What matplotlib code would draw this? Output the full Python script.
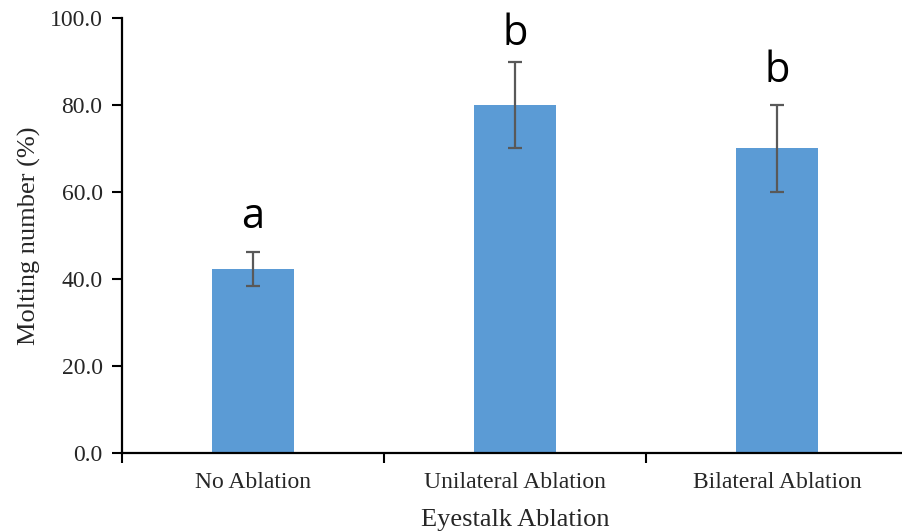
import matplotlib.pyplot as plt

groups = ["No Ablation", "Unilateral Ablation", "Bilateral Ablation"]
molting = [42.3, 80.0, 70.0]
errors = [3.9, 10.0, 10.0]
letters = ["a", "b", "b"]
letter_y = [51.7, 93.8, 85.3]
y_ticks = [0, 20, 40, 60, 80, 100]

plt.rcParams["font.family"] = ["Liberation Serif", "DejaVu Serif"]

fig = plt.figure(figsize=(9.03, 5.31), dpi=100)
ax = fig.add_axes([0.1351, 0.1469, 0.8704, 0.8192])

x = list(range(len(groups)))
ax.bar(x, molting, width=0.31, color="#5B9BD5", zorder=2)
ax.errorbar(
    x, molting, yerr=errors,
    fmt="none", ecolor="#595959", elinewidth=1.6,
    capsize=5, capthick=1.6, zorder=3
)

# significance letters
for xi, letter, yl in zip(x, letters, letter_y):
    ax.text(xi, yl, letter, ha="center", va="baseline",
            fontsize=30, family=["Open Sans", "DejaVu Sans"], color="black")

ax.set_xlim(-0.5, 2.5)
ax.set_ylim(0, 100)
ax.set_yticks(y_ticks)
ax.set_yticklabels([f"{v:.1f}" for v in y_ticks])

ax.set_xticks(x)
ax.set_xticklabels(groups)
ax.set_xticks([-0.5, 0.5, 1.5, 2.5], minor=True)
ax.tick_params(axis="x", which="major", length=0, pad=14, labelsize=17,
               labelcolor="#262626")
ax.tick_params(axis="x", which="minor", length=7, width=1.5, direction="out")
ax.tick_params(axis="y", length=7, width=1.5, direction="out", pad=7,
               labelsize=17, labelcolor="#262626")

for side in ["top", "right"]:
    ax.spines[side].set_visible(False)
for side in ["left", "bottom"]:
    ax.spines[side].set_linewidth(1.6)

ax.set_xlabel("Eyestalk Ablation", fontsize=19, labelpad=11, color="#262626")
ax.set_ylabel("Molting number (%)", fontsize=19, labelpad=6, color="#262626")

fig.savefig("out.png", dpi=100)
